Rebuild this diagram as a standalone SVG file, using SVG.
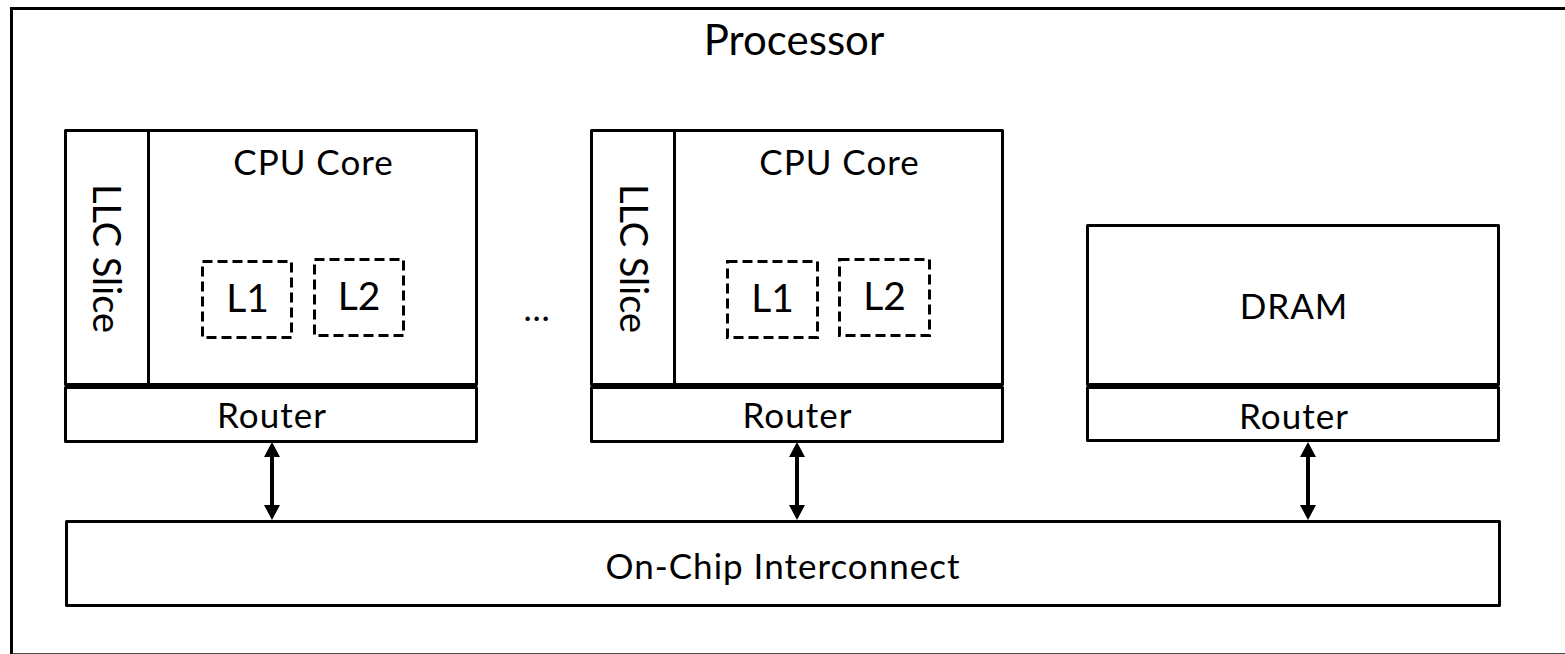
<svg xmlns="http://www.w3.org/2000/svg" width="1565" height="654" viewBox="0 0 1565 654">
  <style>
    .box { fill: #fff; stroke: #000; stroke-width: 3; stroke-linejoin: round; }
    .frame { fill: none; stroke: #000; stroke-width: 3; }
    .cache { fill: none; stroke: #000; stroke-width: 3; stroke-dasharray: 10 5; }
    .div { stroke: #000; stroke-width: 3; }
    .conn { stroke: #000; stroke-width: 4; fill: none; marker-start: url(#ah); marker-end: url(#ah); }
    text { font-family: "Lato", "Liberation Sans", sans-serif; fill: #000; text-anchor: middle; }
    .t35 { font-size: 35px; letter-spacing: 1px; }
    .t38 { font-size: 38px; }
    .t39 { font-size: 39px; }
    .t42 { font-size: 42px; }
  </style>
  <defs>
    <marker id="ah" viewBox="0 0 16 16" refX="2" refY="8" markerWidth="16" markerHeight="16" markerUnits="userSpaceOnUse" orient="auto-start-reverse">
      <path d="M0,0 L15,8 L0,16 z" fill="#000"/>
    </marker>
  </defs>
  <rect width="1565" height="654" fill="#fff"/>

  <g id="processor">
    <rect class="frame" x="11.5" y="8.5" width="1570" height="646.3"/>
    <text class="t42" x="794" y="55">Processor</text>
  </g>

  <g id="tile1">
    <rect class="box" x="65.5" y="130.5" width="411" height="254"/>
    <line class="div" x1="148.5" y1="130.5" x2="148.5" y2="384.5"/>
    <text class="t38" transform="translate(93,258.5) rotate(90)" x="0" y="0">LLC Slice</text>
    <text class="t35" x="313.5" y="175">CPU Core</text>
    <g id="tile1-l1">
      <rect class="cache" x="202.5" y="261.5" width="89" height="76"/>
      <text class="t39" x="247.5" y="311.5">L1</text>
    </g>
    <g id="tile1-l2">
      <rect class="cache" x="314.5" y="259.5" width="89" height="76"/>
      <text class="t39" x="359" y="309.5">L2</text>
    </g>
    <g id="router1">
      <rect class="box" x="65.5" y="387.5" width="411" height="54"/>
      <text class="t35" x="272" y="427.5">Router</text>
    </g>
  </g>

  <g id="ellipsis">
    <text class="t42" x="536.5" y="321" style="font-size:35px">…</text>
  </g>

  <g id="tile2">
    <rect class="box" x="591.5" y="130.5" width="411" height="254"/>
    <line class="div" x1="674.5" y1="130.5" x2="674.5" y2="384.5"/>
    <text class="t38" transform="translate(620,258.5) rotate(90)" x="0" y="0">LLC Slice</text>
    <text class="t35" x="839.5" y="175">CPU Core</text>
    <g id="tile2-l1">
      <rect class="cache" x="727.5" y="261.5" width="90" height="76"/>
      <text class="t39" x="772.5" y="311.5">L1</text>
    </g>
    <g id="tile2-l2">
      <rect class="cache" x="839.5" y="259.5" width="90" height="76"/>
      <text class="t39" x="884.5" y="309.5">L2</text>
    </g>
    <g id="router2">
      <rect class="box" x="591.5" y="387.5" width="411" height="54"/>
      <text class="t35" x="797.5" y="427.5">Router</text>
    </g>
  </g>

  <g id="dram">
    <rect class="box" x="1087.5" y="225.5" width="411" height="159"/>
    <text class="t35" x="1294" y="318.5">DRAM</text>
    <g id="router3">
      <rect class="box" x="1087.5" y="387.5" width="411" height="53"/>
      <text class="t35" x="1294" y="428.5">Router</text>
    </g>
  </g>

  <g id="interconnect">
    <rect class="box" x="66.5" y="521.5" width="1433" height="84"/>
    <text class="t35" x="783" y="578.5">On-Chip Interconnect</text>
  </g>

  <g id="connectors">
    <line class="conn" x1="272" y1="455" x2="272" y2="507"/>
    <line class="conn" x1="797" y1="455" x2="797" y2="507"/>
    <line class="conn" x1="1308" y1="455" x2="1308" y2="507"/>
  </g>
</svg>
